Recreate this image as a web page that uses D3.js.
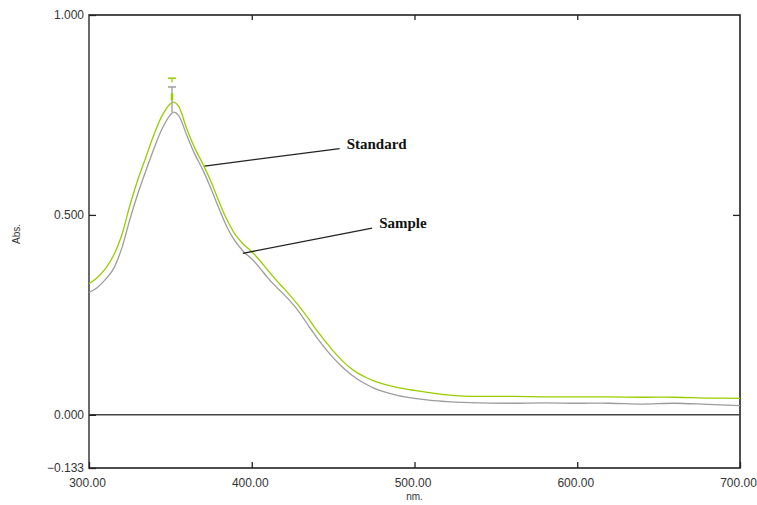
<!DOCTYPE html>
<meta charset="utf-8">
<html>
<head>
<title>Abs spectrum</title>
<style>
  body { margin: 0; background: #fff; }
  svg text { font-family: "Liberation Sans", Arial, sans-serif; }
</style>
</head>
<body>
<script src="https://d3js.org/d3.v7.min.js"></script>
<svg width="757" height="505"></svg>
<script>

    // wavelength (nm) and absorbance
    var wavelengths = [300,305,310,315,320,325,330,335,340,345,350,352,355,360,365,370,375,380,385,390,395,400,
                       405,410,415,420,425,430,435,440,445,450,455,460,465,470,475,480,490,500,510,520,530,540,
                       560,580,600,620,640,660,680,700];
    var standard = [0.328,0.343,0.365,0.398,0.448,0.522,0.588,0.645,0.702,0.749,0.778,0.782,0.772,0.716,0.667,0.627,0.583,0.532,0.486,0.450,0.426,0.408,
                    0.386,0.361,0.337,0.315,0.292,0.267,0.240,0.211,0.185,0.160,0.138,0.119,0.105,0.094,0.085,0.078,0.068,0.061,0.055,0.050,0.047,0.046,
                    0.046,0.045,0.045,0.045,0.044,0.044,0.042,0.041];
    var sample = [0.306,0.318,0.338,0.365,0.415,0.487,0.553,0.611,0.667,0.716,0.750,0.757,0.749,0.700,0.652,0.612,0.565,0.515,0.468,0.433,0.408,0.390,
                  0.367,0.342,0.320,0.300,0.278,0.252,0.222,0.193,0.167,0.143,0.122,0.104,0.089,0.077,0.067,0.059,0.048,0.041,0.036,0.033,0.031,0.030,
                  0.029,0.030,0.029,0.029,0.027,0.029,0.026,0.023];

    var yTicks = [1.0, 0.5, 0.0, -0.133];
    var xTicks = [300, 400, 500, 600, 700];

    // peak pick markers: wavelength, top of marker, peak value
    var peakNm = 351;
    var peakTop = [0.842, 0.820];
    var peakVal = [0.782, 0.757];

    // labels with leader lines (in data units)
    var labelNames = ["Standard", "Sample"];
    var labelFromNm = [371, 394.5];
    var labelFromAbs = [0.622, 0.404];
    var labelToNm = [454, 474];
    var labelToAbs = [0.666, 0.467];

    var svg = d3.select("svg"),
        pLeft = 89, pRight = 740, pTop = 15, pBottom = 468;

    var x = d3.scaleLinear().domain([300, 700]).range([pLeft, pRight]);
    var y = d3.scaleLinear().domain([-0.133, 1]).range([pBottom, pTop]);

    svg.append("clipPath").attr("id", "clip")
        .append("rect").attr("x", pLeft).attr("y", pTop).attr("width", pRight - pLeft).attr("height", pBottom - pTop);

    // frame
    svg.append("rect")
        .attr("x", pLeft).attr("y", pTop).attr("width", pRight - pLeft).attr("height", pBottom - pTop)
        .attr("fill", "none").attr("stroke", "#222").attr("stroke-width", 1.6);
    svg.append("line")
        .attr("x1", pLeft).attr("x2", pLeft).attr("y1", pTop).attr("y2", pBottom)
        .attr("stroke", "#6a6a6a").attr("stroke-width", 2);

    // zero line
    svg.append("line")
        .attr("x1", pLeft).attr("x2", pRight).attr("y1", y(0)).attr("y2", y(0))
        .attr("stroke", "#444").attr("stroke-width", 1.4);

    var yAxis = svg.append("g")
        .attr("transform", "translate(" + pLeft + ",0)")
        .call(d3.axisLeft(y).tickValues(yTicks).tickSize(-7).tickPadding(5).tickFormat(d3.format(".3f")));
    var yAxisR = svg.append("g")
        .attr("transform", "translate(" + pRight + ",0)")
        .call(d3.axisRight(y).tickValues([0.5]).tickSize(-7).tickFormat(""));
    var xAxis = svg.append("g")
        .attr("transform", "translate(0," + pBottom + ")")
        .call(d3.axisBottom(x).tickValues(xTicks).tickSize(-6).tickPadding(10).tickFormat(d3.format(".2f")));
    var xAxisT = svg.append("g")
        .attr("transform", "translate(0," + pTop + ")")
        .call(d3.axisTop(x).tickValues([400, 500, 600]).tickSize(-5).tickFormat(""));

    [yAxis, yAxisR, xAxis, xAxisT].forEach(function(g) {
        g.select(".domain").remove();
        g.selectAll(".tick line").attr("stroke", "#222").attr("stroke-width", 1.3);
        g.selectAll("text").attr("font-size", 12).attr("fill", "#333");
    });
    xAxis.selectAll("text").attr("dx", -2);

    svg.append("text")
        .attr("x", x(500)).attr("y", 500)
        .attr("text-anchor", "middle").attr("font-size", 10).attr("fill", "#333")
        .text("nm.");
    svg.append("text")
        .attr("transform", "translate(20,234) rotate(-90)")
        .attr("text-anchor", "middle").attr("font-size", 10).attr("fill", "#333")
        .text("Abs.");

    var line = d3.line()
        .x(function(d) { return x(d[0]); })
        .y(function(d) { return y(d[1]); })
        .curve(d3.curveCatmullRom.alpha(0.5));

    var plot = svg.append("g").attr("clip-path", "url(#clip)");

    plot.append("path")
        .datum(d3.zip(wavelengths, sample))
        .attr("d", line).attr("fill", "none")
        .attr("stroke", "#9c9c9c").attr("stroke-width", 1.3);
    plot.append("path")
        .datum(d3.zip(wavelengths, standard))
        .attr("d", line).attr("fill", "none")
        .attr("stroke", "#99cc00").attr("stroke-width", 1.3);

    // peak markers
    var peakColors = ["#99cc00", "#9c9c9c"];
    peakTop.forEach(function(t, i) {
        svg.append("line")
            .attr("x1", x(peakNm) - 4).attr("x2", x(peakNm) + 4)
            .attr("y1", y(t)).attr("y2", y(t))
            .attr("stroke", peakColors[i]).attr("stroke-width", 1.5);
    });
    svg.append("line")
        .attr("x1", x(peakNm)).attr("x2", x(peakNm))
        .attr("y1", y(peakTop[1])).attr("y2", y(peakVal[1]))
        .attr("stroke", "#9c9c9c").attr("stroke-width", 1.3);
    svg.append("line")
        .attr("x1", x(peakNm)).attr("x2", x(peakNm))
        .attr("y1", y(peakTop[0])).attr("y2", y(peakTop[0]) + 4)
        .attr("stroke", "#99cc00").attr("stroke-width", 1.3);
    svg.append("line")
        .attr("x1", x(peakNm)).attr("x2", x(peakNm))
        .attr("y1", y(peakVal[0]) - 9).attr("y2", y(peakVal[0]) - 2)
        .attr("stroke", "#99cc00").attr("stroke-width", 2.5);

    // leader lines and names
    labelNames.forEach(function(name, i) {
        svg.append("line")
            .attr("x1", x(labelFromNm[i])).attr("y1", y(labelFromAbs[i]))
            .attr("x2", x(labelToNm[i])).attr("y2", y(labelToAbs[i]))
            .attr("stroke", "#222").attr("stroke-width", 1.3);
        svg.append("text")
            .attr("x", x(labelToNm[i]) + 7).attr("y", y(labelToAbs[i]))
            .style("font-family", "'Liberation Serif', 'Times New Roman', serif")
            .attr("font-weight", "bold").attr("font-size", 15).attr("fill", "#111")
            .text(name);
    });

</script>
</body>
</html>
